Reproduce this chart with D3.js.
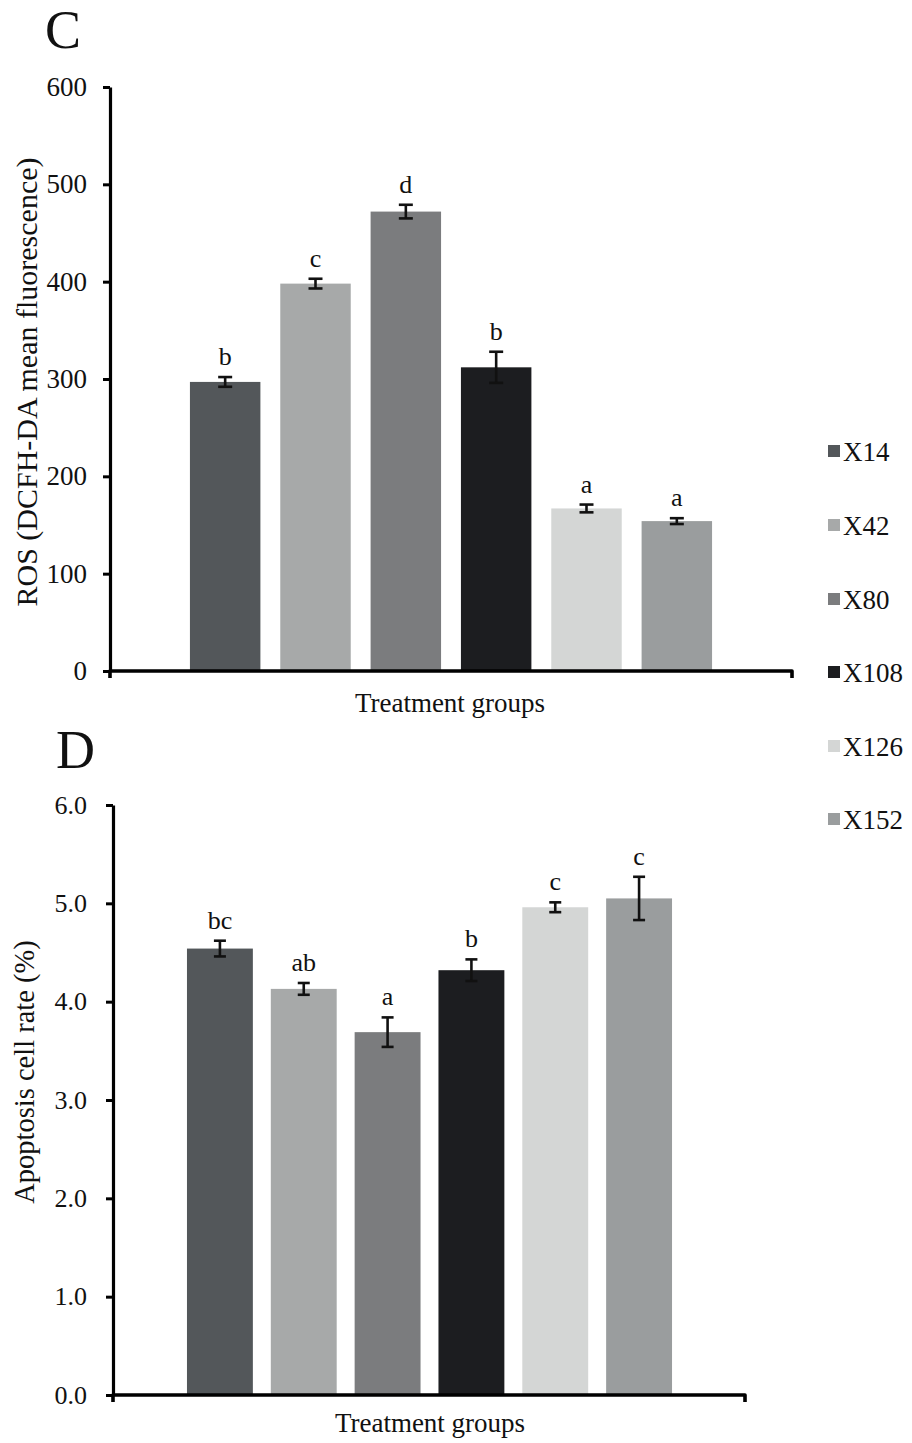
<!DOCTYPE html>
<html>
<head>
<meta charset="utf-8">
<script src="https://cdn.jsdelivr.net/npm/d3@7"></script>
<style>
  html, body { margin: 0; padding: 0; background: #fff; }
  svg { display: block; font-family: "Liberation Serif", "Times New Roman", serif; }
</style>
</head>
<body>
<svg id="chart" width="912" height="1443"></svg>
<script>
// ---- data ----
const groups = ["X14", "X42", "X80", "X108", "X126", "X152"];
const colors = ["#53575a", "#a7a9a9", "#7b7c7e", "#1c1d20", "#d4d6d5", "#9a9d9e"];

const rosValues = [297, 398, 472, 312, 167, 154];
const rosErrors = [5, 5, 7, 16, 4, 3];
const rosLetters = ["b", "c", "d", "b", "a", "a"];
const rosTicks = [0, 100, 200, 300, 400, 500, 600];

const apoValues = [4.54, 4.13, 3.69, 4.32, 4.96, 5.05];
const apoErrors = [0.08, 0.06, 0.15, 0.11, 0.05, 0.22];
const apoLetters = ["bc", "ab", "a", "b", "c", "c"];
const apoTicks = [0, 1, 2, 3, 4, 5, 6];

const svg = d3.select("#chart");

function panel(cfg) {
  const g = svg.append("g");
  const y = d3.scaleLinear().domain(cfg.domain).range([cfg.y0, cfg.y1]);
  const x = d3.scaleBand().domain(groups).range(cfg.xRange)
    .paddingInner(cfg.padIn).paddingOuter(cfg.padOut);

  // bars
  g.selectAll("rect.bar").data(groups).join("rect")
    .attr("class", "bar")
    .attr("x", d => x(d))
    .attr("width", x.bandwidth())
    .attr("y", (d, i) => y(cfg.values[i]))
    .attr("height", (d, i) => y(0) - y(cfg.values[i]))
    .attr("fill", (d, i) => colors[i]);

  // error bars
  const eb = g.selectAll("g.err").data(groups).join("g").attr("class", "err")
    .attr("stroke", "#111").attr("stroke-width", 2.6);
  eb.append("line")
    .attr("x1", d => x(d) + x.bandwidth() / 2).attr("x2", d => x(d) + x.bandwidth() / 2)
    .attr("y1", (d, i) => y(cfg.values[i] + cfg.errors[i]))
    .attr("y2", (d, i) => y(cfg.values[i] - cfg.errors[i]));
  [1, -1].forEach(s => {
    eb.append("line")
      .attr("x1", d => x(d) + x.bandwidth() / 2 - cfg.cap)
      .attr("x2", d => x(d) + x.bandwidth() / 2 + cfg.cap)
      .attr("y1", (d, i) => y(cfg.values[i] + s * cfg.errors[i]))
      .attr("y2", (d, i) => y(cfg.values[i] + s * cfg.errors[i]));
  });

  // significance letters
  g.selectAll("text.sig").data(groups).join("text")
    .attr("class", "sig")
    .attr("x", d => x(d) + x.bandwidth() / 2)
    .attr("y", (d, i) => y(cfg.values[i] + cfg.errors[i]) - 12)
    .attr("text-anchor", "middle")
    .attr("font-size", 26)
    .attr("fill", "#111")
    .text((d, i) => cfg.letters[i]);

  // y axis
  const ax = g.append("g")
    .attr("transform", `translate(${cfg.axisX},0)`)
    .call(d3.axisLeft(y).tickValues(cfg.ticks).tickFormat(cfg.fmt).tickSize(7).tickSizeOuter(0).tickPadding(cfg.tickPad));
  ax.select(".domain").attr("stroke", "#000").attr("stroke-width", 3.2);
  ax.selectAll(".tick line").attr("stroke", "#000").attr("stroke-width", 3);
  ax.selectAll(".tick text").attr("font-size", cfg.tickFont).attr("fill", "#111")
    .attr("font-family", "Liberation Serif, Times New Roman, serif");

  // x axis line with end ticks
  g.append("path")
    .attr("d", `M${cfg.axisX},${y(0) + 7}V${y(0)}H${cfg.xEnd}V${y(0) + 7}`)
    .attr("fill", "none").attr("stroke", "#000").attr("stroke-width", 3.6)
    .attr("stroke-linejoin", "round");

  // x title
  g.append("text")
    .attr("x", cfg.xTitleX).attr("y", cfg.xTitleY)
    .attr("text-anchor", "middle").attr("font-size", 27).attr("fill", "#111")
    .text("Treatment groups");

  // y title
  g.append("text")
    .attr("transform", `translate(${cfg.yTitleX},${cfg.yTitleY}) rotate(-90)`)
    .attr("text-anchor", "middle").attr("font-size", cfg.yTitleFont).attr("fill", "#111")
    .text(cfg.yTitle);

  // panel letter
  g.append("text")
    .attr("x", cfg.letterX).attr("y", cfg.letterY)
    .attr("font-size", 54).attr("fill", "#111")
    .text(cfg.panel);
}

panel({
  values: rosValues, errors: rosErrors, letters: rosLetters, ticks: rosTicks,
  domain: [0, 600], y0: 671, y1: 87,
  xRange: [180, 722], padIn: 0.22, padOut: 0.11,
  axisX: 110, xEnd: 792, cap: 7, tickPad: 16, tickFont: 27,
  fmt: d3.format("d"),
  xTitleX: 450, xTitleY: 712,
  yTitle: "ROS (DCFH-DA mean fluorescence)", yTitleX: 37, yTitleY: 382, yTitleFont: 30,
  panel: "C", letterX: 45, letterY: 48
});

panel({
  values: apoValues, errors: apoErrors, letters: apoLetters, ticks: apoTicks,
  domain: [0, 6], y0: 1395, y1: 805,
  xRange: [178, 681], padIn: 0.214, padOut: 0.107,
  axisX: 113, xEnd: 745, cap: 6, tickPad: 19, tickFont: 26,
  fmt: d3.format(".1f"),
  xTitleX: 430, xTitleY: 1432,
  yTitle: "Apoptosis cell rate (%)", yTitleX: 34, yTitleY: 1072, yTitleFont: 28.5,
  panel: "D", letterX: 56, letterY: 768
});

// legend
const legendY = [452, 526, 600, 673, 747, 820];
const lg = svg.append("g").selectAll("g").data(groups).join("g")
  .attr("transform", (d, i) => `translate(828,${legendY[i]})`);
lg.append("rect").attr("x", 0).attr("y", -7).attr("width", 12).attr("height", 12)
  .attr("fill", (d, i) => colors[i]);
lg.append("text").attr("x", 15).attr("y", 9).attr("font-size", 27).attr("fill", "#111")
  .text(d => d);
</script>
</body>
</html>
